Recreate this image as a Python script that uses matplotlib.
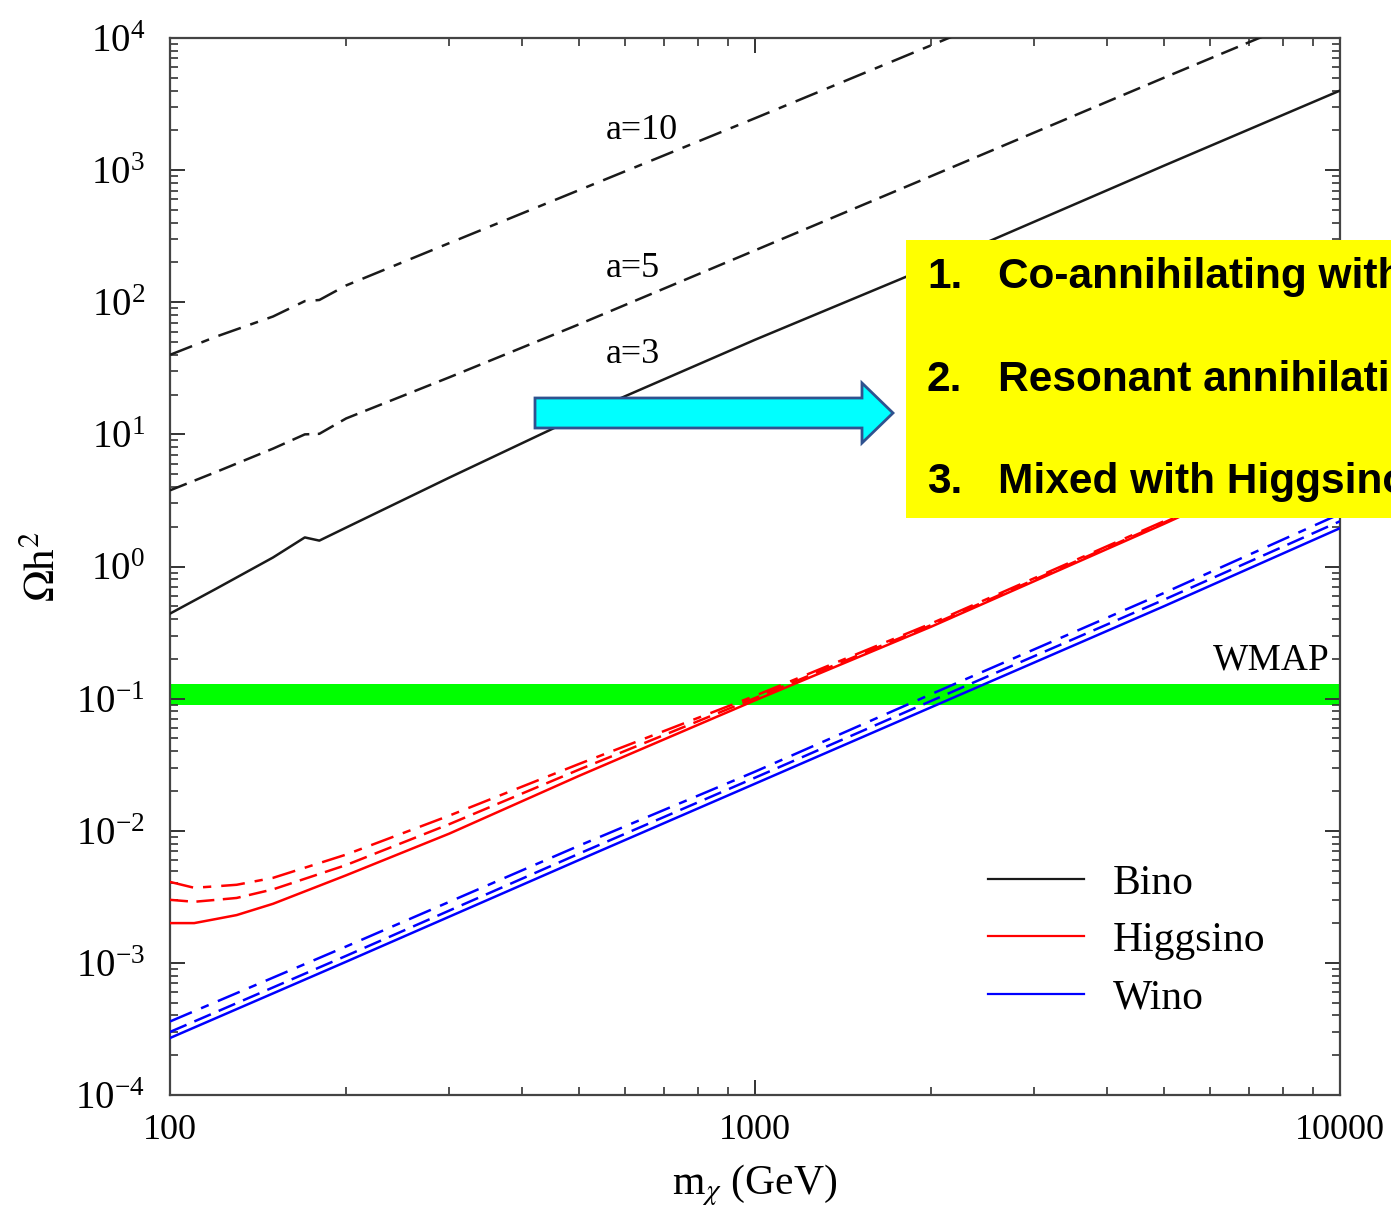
import numpy as np
import matplotlib
matplotlib.use("Agg")
import matplotlib.pyplot as plt
from matplotlib.patches import Rectangle, Polygon
from matplotlib.lines import Line2D

plt.rcParams['font.family'] = ['Liberation Serif', 'DejaVu Serif']
plt.rcParams['mathtext.fontset'] = 'stix'

# ---------------- data ----------------
mass_bino = [100, 120, 150, 170, 180, 200, 300, 500, 1000, 2000, 5000, 10000]
bino_a3 = [0.44, 0.68, 1.17, 1.66, 1.57, 1.97, 4.7, 13.7, 52, 187, 1080, 4000]
bino_a5 = [3.77, 5.2, 7.8, 10.0, 10.1, 13.2, 27, 68, 247, 900, 5000, 18000]
bino_a10 = [40, 55, 78, 102, 104, 134, 280, 705, 2470, 8800, 48000, 170000]

mass_h = [100, 110, 120, 130, 150, 200, 300, 500, 1000, 2000, 5000, 10000]
higgsino_a3 = [0.0020, 0.0020, 0.00215, 0.0023, 0.0028, 0.0046, 0.0095, 0.026, 0.097, 0.35, 2.1, 8.5]
higgsino_a5 = [0.0030, 0.0029, 0.0030, 0.0031, 0.0036, 0.0055, 0.0112, 0.029, 0.101, 0.36, 2.15, 8.7]
higgsino_a10 = [0.0041, 0.0037, 0.0038, 0.0039, 0.0044, 0.0066, 0.0130, 0.032, 0.105, 0.37, 2.2, 8.9]

mass_w = [100, 200, 500, 1000, 2000, 5000, 10000]
wino_a3 = [2.7e-4, 1.02e-3, 6.0e-3, 0.0227, 0.086, 0.50, 1.95]
wino_a5 = [3.0e-4, 1.13e-3, 6.7e-3, 0.0252, 0.096, 0.56, 2.2]
wino_a10 = [3.6e-4, 1.33e-3, 7.7e-3, 0.028, 0.108, 0.63, 2.5]

wmap_band = (0.090, 0.130)
a_labels = ["a=3", "a=5", "a=10"]
legend_labels = ["Bino", "Higgsino", "Wino"]
box_items = ["1.", "2.", "3."]
box_texts = ["Co-annihilating with", "Resonant annihilation", "Mixed with Higgsino"]

# ---------------- figure ----------------
W, H = 1391, 1216
fig = plt.figure(figsize=(W / 100, H / 100), dpi=100)
L, R, T, B = 170, 1340, 38, 1095
ax = fig.add_axes([L / W, 1 - B / H, (R - L) / W, (B - T) / H])
ax.set_xscale('log')
ax.set_yscale('log')
ax.set_xlim(100, 10000)
ax.set_ylim(1e-4, 1e4)

lw = 1.8
k = '#1a1a1a'
dash = (0, (7.2, 3.4))
dashdot = (0, (9.5, 4.0, 3.3, 4.0))

ax.axhspan(*wmap_band, color='#00ff00', lw=0, zorder=1)

ax.plot(mass_bino, bino_a3, color=k, lw=lw, ls='-', zorder=3)
ax.plot(mass_bino, bino_a5, color=k, lw=lw, ls=dash, zorder=3)
ax.plot(mass_bino, bino_a10, color=k, lw=lw, ls=dashdot, zorder=3)

ax.plot(mass_h, higgsino_a3, color='#ff0000', lw=lw, ls='-', zorder=3)
ax.plot(mass_h, higgsino_a5, color='#ff0000', lw=lw, ls=dash, zorder=3)
ax.plot(mass_h, higgsino_a10, color='#ff0000', lw=lw, ls=dashdot, zorder=3)

ax.plot(mass_w, wino_a3, color='#0000ff', lw=lw, ls='-', zorder=3)
ax.plot(mass_w, wino_a5, color='#0000ff', lw=lw, ls=dash, zorder=3)
ax.plot(mass_w, wino_a10, color='#0000ff', lw=lw, ls=dashdot, zorder=3)

# ticks
ax.set_xticks([100, 1000, 10000])
ax.set_xticklabels(['100', '1000', '10000'])
ax.tick_params(which='both', direction='in', top=True, right=True, colors='#333333', labelcolor='black')
ax.tick_params(which='major', length=11, width=1.4)
ax.tick_params(axis='x', which='major', labelsize=26, pad=14)
ax.tick_params(axis='y', which='major', labelsize=28, pad=18)
ax.tick_params(which='minor', length=6, width=1.2)
ax.yaxis.set_major_locator(matplotlib.ticker.LogLocator(base=10, numticks=20))
ax.yaxis.set_minor_locator(matplotlib.ticker.LogLocator(base=10, subs=np.arange(2, 10), numticks=20))
ax.yaxis.set_minor_formatter(matplotlib.ticker.NullFormatter())
ax.xaxis.set_minor_formatter(matplotlib.ticker.NullFormatter())
for s in ax.spines.values():
    s.set_color('#444444')
    s.set_linewidth(1.6)

ax.set_xlabel(r'm$_\chi$ (GeV)', fontsize=30, labelpad=11)
ax.set_ylabel(r'$\Omega$h$^2$', fontsize=31, labelpad=8)

# curve annotations
ax.text(555, 2000, a_labels[2], fontsize=26, ha='left', va='center', zorder=4)
ax.text(555, 181, a_labels[1], fontsize=26, ha='left', va='center', zorder=4)
ax.text(555, 40, a_labels[0], fontsize=26, ha='left', va='center', zorder=4)
ax.text(9600, 0.194, "WMAP", fontsize=27, ha='right', va='center', zorder=4)

# legend
handles = [Line2D([], [], color=c, lw=1.6) for c in [k, '#ff0000', '#0000ff']]
ax.legend(handles, legend_labels, loc='center', bbox_to_anchor=(0.818, 0.146), frameon=False,
          fontsize=30, handlelength=2.3, handletextpad=0.7, labelspacing=0.45)

# ---------------- overlay: arrow + yellow box ----------------
def fp(x, y):
    return (x / W, 1 - y / H)

arrow_px = [(535, 398), (862, 398), (862, 383), (893, 413), (862, 443), (862, 428), (535, 428)]
fig.add_artist(Polygon([fp(*p) for p in arrow_px], closed=True, transform=fig.transFigure,
                       facecolor='#00ffff', edgecolor='#2f528f', lw=2, zorder=10))
fig.add_artist(Rectangle(fp(906, 518), (1391 - 906) / W + 0.01, (518 - 240) / H,
                         transform=fig.transFigure, facecolor='#ffff00', edgecolor='none', zorder=10))
for i, yy in enumerate([277, 380, 482]):
    fig.text(927 / W, 1 - yy / H, box_items[i], fontsize=30.5, fontweight='bold', family='Liberation Sans',
             ha='left', va='center', zorder=11)
    fig.text(998 / W, 1 - yy / H, box_texts[i], fontsize=30.5, fontweight='bold', family='Liberation Sans',
             ha='left', va='center', zorder=11)

fig.savefig('out.png', dpi=100)
